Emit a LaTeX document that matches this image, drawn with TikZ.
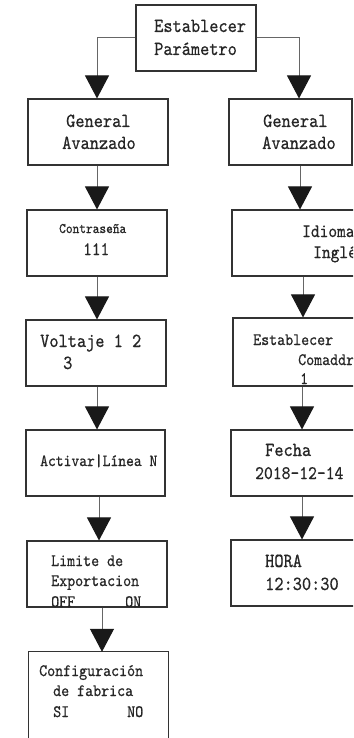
\documentclass[tikz,border=0pt]{standalone}
\usepackage{fontspec}
\newfontfamily\simf[FakeStretch=0.875,FakeBold=0.6]{lmmono10-regular.otf}
\usetikzlibrary{arrows.meta}
\tikzset{
  box/.style={draw=black!80, line width=1.1pt, inner sep=0pt},
  conn/.style={draw=black!60, line width=1pt, -{Triangle[width=24pt,length=23pt,color=black!90]}},
  big/.style={anchor=base west, inner sep=0pt, text=black!85, font=\simf\fontsize{20}{22}\selectfont},
  mid/.style={anchor=base west, inner sep=0pt, text=black!85, font=\simf\fontsize{17.4}{20}\selectfont},
  sml/.style={anchor=base west, inner sep=0pt, text=black!85, font=\simf\fontsize{14.6}{17}\selectfont},
}
\begin{document}
\begin{tikzpicture}[x=1pt,y=-1pt]
\path[use as bounding box, fill=white] (0,0) rectangle (353,738);
\clip (0,0) rectangle (353,738);
% boxes
\node[box, minimum width=120pt, minimum height=66pt] (top) at (196,38) {};
\node[box, minimum width=140pt, minimum height=66pt] (gl) at (98,132) {};
\node[box, minimum width=140pt, minimum height=66pt] (ct) at (97,243) {};
\node[box, minimum width=140pt, minimum height=66pt] (vo) at (96,353) {};
\node[box, minimum width=139pt, minimum height=66pt] (ac) at (95.5,463) {};
\node[box, minimum width=140pt, minimum height=66pt] (li) at (97,574) {};
\node[inner sep=0pt, minimum width=139pt, minimum height=86pt] (cf) at (98.5,695) {};
\draw[draw=black!80, line width=1.1pt] (cf.south west) -- (cf.north west) -- (cf.north east) -- ([yshift=-13pt]cf.south east);
\node[box, minimum width=123pt, minimum height=66pt] (gr) at (290.5,132) {};
\node[box, minimum width=124pt, minimum height=66pt] (id) at (294,243) {};
\node[box, minimum width=123pt, minimum height=68pt] (es) at (294.5,352) {};
\node[box, minimum width=125pt, minimum height=66pt] (fe) at (293.5,463) {};
\node[box, minimum width=125pt, minimum height=66pt] (ho) at (293.5,573) {};
% connectors
\draw[conn] (top.west) -| ([xshift=-1pt]gl.north);
\draw[conn] (top.east) -| ([xshift=8.5pt]gr.north);
\draw[conn] ([xshift=-1pt]gl.south) -- ([xshift=-1pt]gl.south |- ct.north);
\draw[conn] (ct.south) -- (ct.south |- vo.north);
\draw[conn] ([xshift=1pt]vo.south) -- ([xshift=1pt]vo.south |- ac.north);
\draw[conn] ([xshift=3.5pt]ac.south) -- ([xshift=3.5pt]ac.south |- li.north);
\draw[conn] ([xshift=5pt]li.south) -- ([xshift=5pt]li.south |- cf.north);
\draw[conn] ([xshift=9.5pt]gr.south) -- ([xshift=9.5pt]gr.south |- id.north);
\draw[conn] ([xshift=9pt]id.south) -- ([xshift=9pt]id.south |- es.north);
\draw[conn] ([xshift=7.5pt]es.south) -- ([xshift=7.5pt]es.south |- fe.north);
\draw[conn] ([xshift=8.5pt]fe.south) -- ([xshift=8.5pt]fe.south |- ho.north);
% texts
\node[big] (t1) at (154,32) {Establecer};
\node[big] (t2) at (154,55) {Parámetro};
\node[big] (gl1) at (66,127) {General};
\node[big] (gl2) at (62,149) {Avanzado};
\node[sml] (ct1) at (59,233) {Contraseña};
\node[big, font=\simf\fontsize{18.9}{21}\selectfont] (ct2) at (83,255) {111};
\node[big] (vo1) at (40,347) {Voltaje 1 2};
\node[big] (vo2) at (63,369) {3};
\node[mid, font=\simf\fontsize{17}{20}\selectfont] (ac1) at (40,466) {Activar|Línea N};
\node[mid] (li1) at (51,566) {Limite de};
\node[mid] (li2) at (51,586) {Exportacion};
\node[mid] (li3) at (51,607) {OFF};
\node[mid] (li4) at (125,607) {ON};
\node[mid] (cf1) at (39,676) {Configuración};
\node[mid] (cf2) at (53,696) {de fabrica};
\node[mid] (cf3) at (53,717) {SI};
\node[mid] (cf4) at (127,717) {NO};
\node[big] (gr1) at (263,127) {General};
\node[big] (gr2) at (262,149) {Avanzado};
\node[big, font=\simf\fontsize{19}{21}\selectfont] (id1) at (302,237) {Idioma};
\node[big, font=\simf\fontsize{19}{21}\selectfont] (id2) at (313,258) {Inglés};
\node[mid] (es1) at (253,345) {Establecer};
\node[mid] (es2) at (298,365) {Comaddr};
\node[mid] (es3) at (300,384) {1};
\node[big] (fe1) at (265,456) {Fecha};
\node[big, font=\simf\fontsize{19.2}{21}\selectfont] (fe2) at (255,479) {2018-12-14};
\node[big] (ho1) at (265,567) {HORA};
\node[big] (ho2) at (265,590) {12:30:30};
\end{tikzpicture}
\end{document}
